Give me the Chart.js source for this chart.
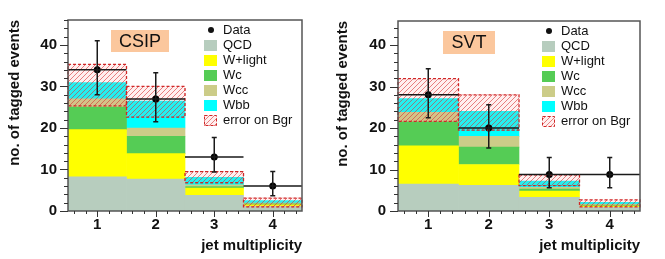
<!DOCTYPE html>
<html>
<head>
<meta charset="utf-8">
<script src="https://cdn.jsdelivr.net/npm/chart.js@4.4.0/dist/chart.umd.min.js"></script>
<style>
  body { margin: 0; background: #fff; width: 665px; height: 259px; overflow: hidden; position: relative; }
  .panel { position: absolute; top: 0; height: 259px; }
  #csipBox { left: 0; width: 332px; }
  #svtBox { left: 332px; width: 333px; }
</style>
</head>
<body>
<div class="panel" id="csipBox"><canvas id="csipChart"></canvas></div>
<div class="panel" id="svtBox"><canvas id="svtChart"></canvas></div>
<script>
const bins = [1, 2, 3, 4];
const yTicks = [0, 10, 20, 30, 40];
const seriesNames = ["QCD", "W+light", "Wc", "Wcc", "Wbb"];
const seriesColors = ["#b7cdbe", "#ffff00", "#55cc55", "#cccc88", "#00ffff"];

// CSIP tagged events
const csipQcd = [8.2, 7.7, 3.8, 1.1];
const csipWlight = [11.4, 6.1, 1.7, 0.4];
const csipWc = [5.4, 4.2, 0.4, 0.2];
const csipWcc = [2.0, 2.0, 0.4, 0.2];
const csipWbb = [3.9, 6.5, 1.8, 0.6];
const csipErrLo = [25.3, 22.6, 6.8, 1.0];
const csipErrHi = [35.3, 30.0, 9.5, 3.1];
const csipData = [34, 27, 13, 6];
const csipDataLo = [28, 21.5, 9.4, 3.7];
const csipDataHi = [41, 33.3, 17.7, 9.5];

// SVT tagged events
const svtQcd = [6.5, 6.2, 3.3, 0.9];
const svtWlight = [9.2, 5.0, 1.5, 0.3];
const svtWc = [5.8, 4.2, 0.5, 0.2];
const svtWcc = [2.3, 2.6, 0.4, 0.2];
const svtWbb = [3.3, 6.0, 1.5, 0.5];
const svtErrLo = [21.6, 19.5, 6.1, 1.0];
const svtErrHi = [31.9, 28.0, 8.7, 2.7];
const svtData = [28, 20, 8.8, 8.8];
const svtDataLo = [22.5, 15.2, 5.6, 5.6];
const svtDataHi = [34.3, 25.6, 12.9, 12.9];

const FONT = "'Liberation Sans', Arial, sans-serif";
const errRed = "#d02828";

function makeHatch() {
  const c = document.createElement("canvas");
  c.width = 5;
  c.height = 5;
  const g = c.getContext("2d");
  g.fillStyle = "rgba(255,140,140,0.14)";
  g.fillRect(0, 0, 5, 5);
  g.strokeStyle = "rgba(215,50,50,0.6)";
  g.lineWidth = 1;
  g.beginPath();
  g.moveTo(0, 5); g.lineTo(5, 0);
  g.moveTo(-1, 1); g.lineTo(1, -1);
  g.moveTo(4, 6); g.lineTo(6, 4);
  g.stroke();
  return g.createPattern(c, "repeat");
}

const hatch = makeHatch();

function buildChart(id, p) {
  let base = bins.map(() => 0);
  const datasets = p.stacks.map((vals, k) => {
    const top = base.map((b, i) => b + vals[i]);
    const ds = {
      type: "bar",
      label: seriesNames[k],
      data: bins.map((x, i) => ({ x: x, y: [base[i], top[i]] })),
      backgroundColor: seriesColors[k],
      borderWidth: 0,
      grouped: false,
      barPercentage: 1,
      categoryPercentage: 1,
      order: 10
    };
    base = top;
    return ds;
  });

  datasets.push({
    type: "bar",
    label: "error on Bgr",
    data: bins.map((x, i) => ({ x: x, y: [p.errLo[i], p.errHi[i]] })),
    backgroundColor: hatch,
    borderWidth: 0,
    grouped: false,
    barPercentage: 1,
    categoryPercentage: 1,
    order: 5
  });

  datasets.push({
    type: "scatter",
    label: "Data",
    data: bins.map((x, i) => ({ x: x, y: p.data[i] })),
    pointRadius: 3.5,
    pointBackgroundColor: "#000",
    pointBorderWidth: 0,
    showLine: false,
    order: 1
  });

  const errIdx = datasets.length - 2;

  const extras = {
    id: "extras",
    afterDatasetsDraw(chart) {
      const ctx = chart.ctx;
      const xs = chart.scales.x;
      const ys = chart.scales.y;
      const area = chart.chartArea;

      // dashed outline of the background error boxes
      ctx.save();
      ctx.strokeStyle = errRed;
      ctx.lineWidth = 1.3;
      ctx.setLineDash([3, 2]);
      chart.getDatasetMeta(errIdx).data.forEach(el => {
        const l = el.x - el.width / 2;
        const t = Math.min(el.y, el.base);
        const h = Math.abs(el.base - el.y);
        ctx.strokeRect(l, t, el.width, h);
      });
      ctx.restore();

      // data error bars
      ctx.save();
      ctx.strokeStyle = "#1a1a1a";
      ctx.lineWidth = 1.5;
      bins.forEach((x, i) => {
        const px = xs.getPixelForValue(x);
        const py = ys.getPixelForValue(p.data[i]);
        const y1 = ys.getPixelForValue(p.dataHi[i]);
        const y2 = ys.getPixelForValue(p.dataLo[i]);
        ctx.beginPath();
        ctx.moveTo(xs.getPixelForValue(x - 0.5), py);
        ctx.lineTo(xs.getPixelForValue(x + 0.5), py);
        ctx.moveTo(px, y1);
        ctx.lineTo(px, y2);
        ctx.moveTo(px - 2.5, y1);
        ctx.lineTo(px + 2.5, y1);
        ctx.moveTo(px - 2.5, y2);
        ctx.lineTo(px + 2.5, y2);
        ctx.stroke();
      });
      ctx.restore();

      // frame and ticks
      ctx.save();
      ctx.strokeStyle = "#555";
      ctx.lineWidth = 1.5;
      ctx.strokeRect(area.left, area.top, area.right - area.left, area.bottom - area.top);
      ctx.lineWidth = 1;
      ctx.strokeStyle = "#333";
      ctx.beginPath();
      for (let v = 0; v <= ys.max + 0.001; v += 2) {
        const py = Math.round(ys.getPixelForValue(v)) + 0.5;
        const len = v % 10 === 0 ? 8 : 4;
        ctx.moveTo(area.left - len, py);
        ctx.lineTo(area.left, py);
      }
      for (let k = 3; k <= 22; k++) {
        const v = k / 5;
        const px = Math.round(xs.getPixelForValue(v)) + 0.5;
        const len = k % 5 === 0 ? 6 : 3;
        ctx.moveTo(px, area.bottom);
        ctx.lineTo(px, area.bottom + len);
      }
      ctx.stroke();
      ctx.restore();
    },
    afterDraw(chart) {
      const ctx = chart.ctx;
      const area = chart.chartArea;

      // tagger label
      ctx.save();
      const bx = area.left + p.tagBox[0];
      const by = area.top + p.tagBox[1];
      ctx.fillStyle = "#fbc79d";
      ctx.fillRect(bx, by, p.tagBox[2], p.tagBox[3]);
      ctx.fillStyle = "#111";
      ctx.font = "18px " + FONT;
      ctx.textAlign = "center";
      ctx.textBaseline = "middle";
      ctx.fillText(p.tag, bx + p.tagBox[2] / 2, by + p.tagBox[3] / 2 + 1);
      ctx.restore();

      // legend
      ctx.save();
      ctx.font = "13px " + FONT;
      ctx.textBaseline = "middle";
      ctx.fillStyle = "#111";
      const sx = area.right - 98;
      const tx = area.right - 79;
      let ry = area.top + 10;
      ctx.beginPath();
      ctx.arc(sx + 7, ry, 3, 0, Math.PI * 2);
      ctx.fill();
      ctx.fillText("Data", tx, ry);
      seriesNames.forEach((name, k) => {
        ry += 15;
        ctx.fillStyle = seriesColors[k];
        ctx.fillRect(sx, ry - 5, 13, 11);
        ctx.fillStyle = "#111";
        ctx.fillText(name, tx, ry);
      });
      ry += 15;
      ctx.fillStyle = hatch;
      ctx.fillRect(sx, ry - 5, 13, 11);
      ctx.strokeStyle = errRed;
      ctx.setLineDash([3, 2]);
      ctx.strokeRect(sx + 0.5, ry - 4.5, 12, 10);
      ctx.fillStyle = "#111";
      ctx.fillText("error on Bgr", tx, ry);
      ctx.restore();
    }
  };

  return new Chart(document.getElementById(id), {
    type: "bar",
    data: { datasets: datasets },
    options: {
      responsive: true,
      maintainAspectRatio: false,
      animation: false,
      layout: { padding: { top: p.padTop, right: p.padRight, left: 0, bottom: 0 } },
      plugins: {
        legend: { display: false },
        tooltip: { enabled: false }
      },
      scales: {
        x: {
          type: "linear",
          min: 0.5,
          max: 4.5,
          offset: false,
          grid: { display: false, drawTicks: false, tickLength: 0 },
          border: { display: false },
          afterBuildTicks: s => { s.ticks = bins.map(v => ({ value: v })); },
          afterFit: s => { s.height = 48; },
          ticks: {
            color: "#111",
            padding: 5,
            font: { family: FONT, size: 15, weight: "bold" },
            callback: v => v
          },
          title: {
            display: true,
            text: "jet multiplicity",
            align: "end",
            color: "#111",
            font: { family: FONT, size: 15, weight: "bold" },
            padding: { top: 0, bottom: 4 }
          }
        },
        y: {
          min: 0,
          max: p.yMax,
          grid: { display: false, drawTicks: false, tickLength: 0 },
          border: { display: false },
          afterBuildTicks: s => { s.ticks = yTicks.map(v => ({ value: v })); },
          afterFit: s => { s.width = p.yWidth; },
          ticks: {
            color: "#111",
            padding: p.yPad,
            font: { family: FONT, size: 15, weight: "bold" }
          },
          title: {
            display: true,
            text: "no. of tagged events",
            align: "end",
            color: "#111",
            font: { family: FONT, size: 15, weight: "bold" },
            padding: { top: p.titlePad, bottom: 0 }
          }
        }
      }
    },
    plugins: [extras]
  });
}

buildChart("csipChart", {
  stacks: [csipQcd, csipWlight, csipWc, csipWcc, csipWbb],
  errLo: csipErrLo, errHi: csipErrHi,
  data: csipData, dataLo: csipDataLo, dataHi: csipDataHi,
  yMax: 46, yWidth: 68, yPad: 11, titlePad: 6,
  padTop: 15, padRight: 30,
  tag: "CSIP", tagBox: [43, 10, 58, 22]
});

buildChart("svtChart", {
  stacks: [svtQcd, svtWlight, svtWc, svtWcc, svtWbb],
  errLo: svtErrLo, errHi: svtErrHi,
  data: svtData, dataLo: svtDataLo, dataHi: svtDataHi,
  yMax: 45.8, yWidth: 66, yPad: 12, titlePad: 2,
  padTop: 12, padRight: 25,
  tag: "SVT", tagBox: [45, 10, 52, 23]
});
</script>
</body>
</html>
